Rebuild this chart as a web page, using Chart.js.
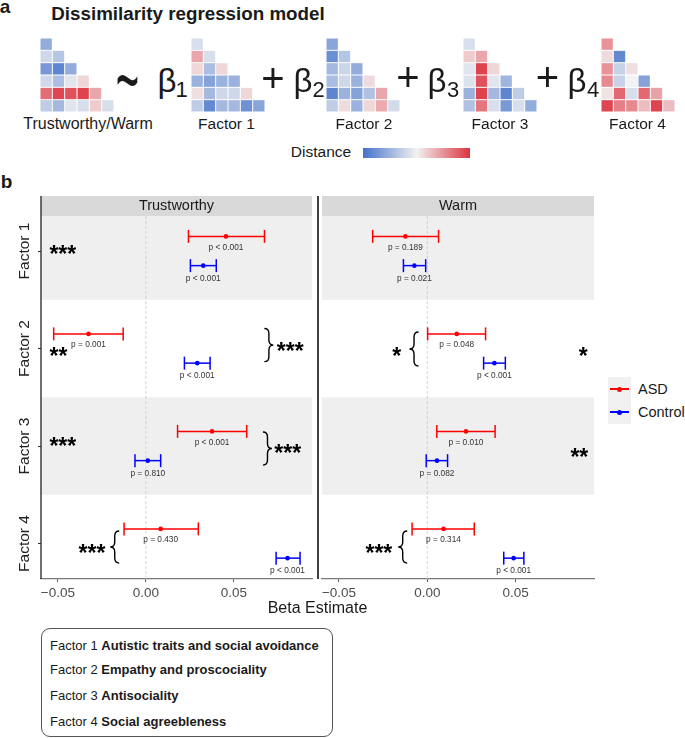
<!DOCTYPE html>
<html>
<head>
<meta charset="utf-8">
<script src="https://cdn.jsdelivr.net/npm/chart.js@4.4.1/dist/chart.umd.min.js"></script>
<style>
  body { margin: 0; background: #fff; font-family: "Liberation Sans", Arial, sans-serif; color: #1a1a1a; }
  #page { position: relative; width: 685px; height: 738px; overflow: hidden; }
  canvas { position: absolute; display: block; }
  .t { position: absolute; line-height: 1; white-space: nowrap; transform: translate(-50%, -50%); }
  .l { position: absolute; line-height: 1; white-space: nowrap; transform: translateY(-50%); }
  .op { font-size: 40px; }
  .beta { font-size: 33px; }
  .sub { font-size: 22px; }
  .tri { font-size: 15.5px; }
  #cbar { position: absolute; left: 363px; top: 148px; width: 107px; height: 10px;
          background: linear-gradient(to right, #4472ca, #f2f2f2 50%, #dc3440); }
  #legend { position: absolute; left: 608px; top: 377px; width: 23px; height: 47px; background: #f0f0f0; }
  .key { position: absolute; left: 2px; width: 19px; height: 1.6px; }
  .dot { position: absolute; left: 7.2px; top: -1.7px; width: 5px; height: 5px; border-radius: 50%; }
  #fbox { position: absolute; left: 41px; top: 628px; width: 292px; height: 109px;
          border: 1.3px solid #555; border-radius: 9px; box-sizing: border-box; }
  .fl { font-size: 13px; }
</style>
</head>
<body>
<div id="page">
  <div class="t" style="left:5px;top:6px;font-size:19px;font-weight:bold">a</div>
  <div class="t" style="left:188px;top:14px;font-size:18.8px;font-weight:bold">Dissimilarity regression model</div>

  <canvas id="h0" width="74" height="74" style="left:40px;top:38px"></canvas>
  <canvas id="h1" width="74" height="74" style="left:191px;top:38px"></canvas>
  <canvas id="h2" width="74" height="74" style="left:326px;top:38px"></canvas>
  <canvas id="h3" width="74" height="74" style="left:463px;top:38px"></canvas>
  <canvas id="h4" width="74" height="74" style="left:601px;top:38px"></canvas>

  <div class="t op" style="left:127.5px;top:79px;transform:translate(-50%,-50%) scale(1,2.2)">~</div>
  <div class="t beta" style="left:167px;top:80px">β</div><div class="t sub" style="left:181.5px;top:90px">1</div>
  <div class="t op" style="left:273px;top:78px">+</div>
  <div class="t beta" style="left:303px;top:80px">β</div><div class="t sub" style="left:318.5px;top:90px">2</div>
  <div class="t op" style="left:408px;top:77px">+</div>
  <div class="t beta" style="left:437px;top:80px">β</div><div class="t sub" style="left:453px;top:90px">3</div>
  <div class="t op" style="left:547.5px;top:77px">+</div>
  <div class="t beta" style="left:577px;top:80px">β</div><div class="t sub" style="left:593px;top:90px">4</div>

  <div class="t tri" style="left:88px;top:124px;font-size:16px">Trustworthy/Warm</div>
  <div class="t tri" style="left:226.5px;top:124px">Factor 1</div>
  <div class="t tri" style="left:364px;top:124px">Factor 2</div>
  <div class="t tri" style="left:500px;top:124px">Factor 3</div>
  <div class="t tri" style="left:637.5px;top:124px">Factor 4</div>

  <div class="t tri" style="left:321px;top:152px">Distance</div>
  <div id="cbar"></div>

  <div class="t" style="left:6.5px;top:181px;font-size:19px;font-weight:bold">b</div>

  <canvas id="trust" width="320" height="429" style="left:0px;top:190px"></canvas>
  <canvas id="warm" width="290" height="429" style="left:312px;top:190px"></canvas>

  <div class="t" style="left:317.5px;top:608px;font-size:16px">Beta Estimate</div>

  <div id="legend">
    <div class="key" style="top:11.2px;background:red"><div class="dot" style="background:red"></div></div>
    <div class="key" style="top:34.2px;background:blue"><div class="dot" style="background:blue"></div></div>
  </div>
  <div class="l" style="left:638px;top:389px;font-size:14.5px">ASD</div>
  <div class="l" style="left:638px;top:412px;font-size:14.5px">Control</div>

  <div id="fbox"></div>
  <div class="l fl" style="left:50px;top:645px">Factor 1 <b>Autistic traits and social avoidance</b></div>
  <div class="l fl" style="left:50px;top:669px">Factor 2 <b>Empathy and proscociality</b></div>
  <div class="l fl" style="left:50px;top:695px">Factor 3 <b>Antisociality</b></div>
  <div class="l fl" style="left:50px;top:721px">Factor 4 <b>Social agreebleness</b></div>
</div>

<script>
const FONT = '"Liberation Sans", Arial, sans-serif';
Chart.defaults.font.family = FONT;

// panel a: lower-triangle distance matrices (-1 = blue, +1 = red)
const twMatrix = [
  [-0.55],
  [-0.2, -0.35],
  [-0.7, -0.85, -0.55],
  [-0.2, -0.4, -0.1, 0.15],
  [0.7, 0.9, 0.85, 0.92, 0.4],
  [-0.3, -0.45, -0.1, -0.15, 0.2, -0.15],
];
const f1Matrix = [
  [-0.15],
  [0.4, -0.15],
  [0.15, -0.4, 0.15],
  [-0.5, -0.62, -0.5, -0.5],
  [0.1, -0.45, -0.2, -0.2, 0.15],
  [-0.3, -0.82, -0.45, -0.45, -0.75, -0.6],
];
const f2Matrix = [
  [-0.6],
  [-0.78, -0.35],
  [-0.45, -0.22, -0.55],
  [-0.42, -0.2, -0.5, 0.12],
  [-0.85, -0.5, -0.62, -0.38, 0.4],
  [-0.3, 0.12, -0.5, 0.15, 0.38, -0.18],
];
const f3Matrix = [
  [-0.15],
  [0.2, 0.4],
  [-0.1, 0.92, 0.15],
  [-0.12, 0.85, -0.1, -0.48],
  [-0.5, 0.92, -0.45, -0.85, -0.3],
  [-0.38, 0.65, -0.15, -0.7, -0.15, -0.55],
];
const f4Matrix = [
  [0.5],
  [0.12, -0.82],
  [0.5, -0.25, 0.1],
  [0.55, -0.25, 0.0, -0.62],
  [0.08, 0.72, -0.15, 0.72, 0.42],
  [0.9, 0.6, 0.55, 0.28, 0.92, 0.28],
];

// panel b: beta estimates with 95% CI
const factors = ["Factor 1", "Factor 2", "Factor 3", "Factor 4"];
const xTicks = [-0.05, 0, 0.05];

const trustAsdEst = [0.0455, -0.0326, 0.0376, 0.0084];
const trustAsdLo = [0.0242, -0.0524, 0.018, -0.0124];
const trustAsdHi = [0.0674, -0.0129, 0.0573, 0.0298];
const trustAsdP = ["p < 0.001", "p = 0.001", "p < 0.001", "p = 0.430"];
const trustCtrlEst = [0.0326, 0.0292, 0.0011, 0.0805];
const trustCtrlLo = [0.0253, 0.0219, -0.0062, 0.074];
const trustCtrlHi = [0.04, 0.0365, 0.0084, 0.0876];
const trustCtrlP = ["p < 0.001", "p < 0.001", "p = 0.810", "p < 0.001"];

const warmAsdEst = [-0.0124, 0.0167, 0.0219, 0.0092];
const warmAsdLo = [-0.0309, 0.0002, 0.0054, -0.0086];
const warmAsdHi = [0.0064, 0.033, 0.0384, 0.0266];
const warmAsdP = ["p = 0.189", "p = 0.048", "p = 0.010", "p = 0.314"];
const warmCtrlEst = [-0.0073, 0.038, 0.0055, 0.0489];
const warmCtrlLo = [-0.0135, 0.0319, -0.0006, 0.0433];
const warmCtrlHi = [-0.0009, 0.0442, 0.0115, 0.0547];
const warmCtrlP = ["p = 0.021", "p < 0.001", "p = 0.082", "p < 0.001"];

// significance marks (text + where they sit, in data units)
const trustStars = [
  { t: "***", x: -0.0472, y: 0.98 },
  { t: "**", x: -0.0497, y: 2.03 },
  { t: "***", x: 0.082, y: 1.975 },
  { t: "***", x: -0.0472, y: 2.95 },
  { t: "***", x: 0.0806, y: 3.03 },
  { t: "***", x: -0.0306, y: 4.056 },
];
const trustBraces = [
  { x: 0.0699, y: 1.965, h: 0.17, dir: 1 },
  { x: 0.0691, y: 3.026, h: 0.17, dir: 1 },
  { x: -0.0177, y: 4.036, h: 0.165, dir: -1 },
];
const warmStars = [
  { t: "*", x: -0.0173, y: 2.03 },
  { t: "*", x: 0.0883, y: 2.03 },
  { t: "**", x: 0.0861, y: 3.07 },
  { t: "***", x: -0.0274, y: 4.056 },
];
const warmBraces = [
  { x: -0.0075, y: 2.005, h: 0.175, dir: -1 },
  { x: -0.0139, y: 4.036, h: 0.165, dir: -1 },
];

const X_MIN = -0.0596, X_MAX = 0.0944;
const Y_MIN = 0.641, Y_MAX = 4.364;
const OFFSET = 0.15;
const shadedRows = [1, 3];

const blueEnd = [68, 114, 202], midCol = [242, 242, 242], redEnd = [220, 52, 64];
function distColor(v) {
  const t = Math.min(1, Math.abs(v));
  const e = v < 0 ? blueEnd : redEnd;
  const c = midCol.map((m, i) => Math.round(m + (e[i] - m) * t));
  return `rgb(${c.join(",")})`;
}

function heatChart(id, rows) {
  const pts = [];
  rows.forEach((row, r) => row.forEach((v, c) => pts.push({ x: c, y: r, v })));
  new Chart(document.getElementById(id), {
    type: "scatter",
    data: {
      datasets: [{
        data: pts,
        pointStyle: "rect",
        pointBackgroundColor: (ctx) => distColor(ctx.raw.v),
        pointBorderWidth: 0,
        pointRadius: (ctx) => {
          const s = ctx.chart.scales.x;
          const cell = Math.abs(s.getPixelForValue(1) - s.getPixelForValue(0));
          return (cell - 1) / (2 * Math.SQRT1_2);
        },
        clip: false,
      }],
    },
    options: {
      responsive: false,
      animation: false,
      events: [],
      layout: { padding: 0 },
      plugins: { legend: { display: false }, tooltip: { enabled: false } },
      scales: {
        x: { type: "linear", min: -0.5, max: 5.5, display: false },
        y: { type: "linear", min: -0.5, max: 5.5, reverse: true, display: false },
      },
    },
  });
}

heatChart("h0", twMatrix);
heatChart("h1", f1Matrix);
heatChart("h2", f2Matrix);
heatChart("h3", f3Matrix);
heatChart("h4", f4Matrix);

function drawBrace(ctx, cx, cy, h, w, dir) {
  const tip = cx + (dir * w) / 2, end = cx - (dir * w) / 2;
  const q = Math.min(5, h / 3);
  ctx.beginPath();
  ctx.moveTo(end, cy - h);
  ctx.quadraticCurveTo(cx, cy - h, cx, cy - h + q);
  ctx.lineTo(cx, cy - q);
  ctx.quadraticCurveTo(cx, cy, tip, cy);
  ctx.quadraticCurveTo(cx, cy, cx, cy + q);
  ctx.lineTo(cx, cy + h - q);
  ctx.quadraticCurveTo(cx, cy + h, end, cy + h);
  ctx.stroke();
}

function facetPlugin(cfg) {
  return {
    id: "facet",
    beforeDraw(chart) {
      const { ctx, chartArea: a, scales: { y } } = chart;
      ctx.save();
      ctx.fillStyle = "#efefef";
      shadedRows.forEach((f) => {
        const t = Math.max(a.top, y.getPixelForValue(f - 0.5));
        const b = Math.min(a.bottom, y.getPixelForValue(f + 0.5));
        ctx.fillRect(a.left, t, a.right - a.left, b - t);
      });
      ctx.restore();
    },
    afterDatasetsDraw(chart) {
      const { ctx, scales: { x, y } } = chart;
      ctx.save();
      ctx.fillStyle = "#333";
      ctx.font = `8.3px ${FONT}`;
      ctx.textAlign = "center";
      ctx.textBaseline = "middle";
      cfg.groups.forEach((g) =>
        g.est.forEach((v, i) =>
          ctx.fillText(g.p[i], x.getPixelForValue(v), y.getPixelForValue(i + 1 + g.off) + g.gap)
        )
      );
      ctx.fillStyle = "#000";
      ctx.font = `bold 23px ${FONT}`;
      ctx.textBaseline = "alphabetic";
      cfg.stars.forEach((s) => {
        const m = ctx.measureText(s.t);
        ctx.fillText(s.t, x.getPixelForValue(s.x),
          y.getPixelForValue(s.y) + (m.actualBoundingBoxAscent - m.actualBoundingBoxDescent) / 2);
      });
      ctx.strokeStyle = "#000";
      ctx.lineWidth = 1.4;
      cfg.braces.forEach((b) => {
        const cy = y.getPixelForValue(b.y);
        const h = Math.abs(y.getPixelForValue(b.y + b.h) - cy);
        drawBrace(ctx, x.getPixelForValue(b.x), cy, h, 9, b.dir);
      });
      ctx.restore();
    },
    afterDraw(chart) {
      const { ctx, chartArea: a, scales: { y } } = chart;
      ctx.save();
      ctx.fillStyle = "#d9d9d9";
      ctx.fillRect(a.left, a.top - 20, a.right - a.left, 20);
      ctx.fillStyle = "#1a1a1a";
      ctx.font = `14.5px ${FONT}`;
      ctx.textAlign = "center";
      ctx.textBaseline = "middle";
      ctx.fillText(cfg.title, (a.left + a.right) / 2, a.top - 10);
      ctx.strokeStyle = cfg.lineColor;
      ctx.lineWidth = cfg.lineWidth;
      ctx.beginPath();
      ctx.moveTo(a.left + cfg.lineOffset, a.top - 20);
      ctx.lineTo(a.left + cfg.lineOffset, a.bottom);
      ctx.stroke();
      if (cfg.showY) {
        ctx.font = `15.5px ${FONT}`;
        ctx.fillStyle = "#222";
        factors.forEach((f, i) => {
          ctx.save();
          ctx.translate(a.left - 16.5, y.getPixelForValue(i + 1));
          ctx.rotate(-Math.PI / 2);
          ctx.fillText(f, 0, 0);
          ctx.restore();
        });
      }
      ctx.restore();
    },
  };
}

function errorBars(est, lo, hi, off, color) {
  return est.map((_, i) => ({
    type: "line",
    showLine: true,
    data: [{ x: lo[i], y: i + 1 + off }, { x: hi[i], y: i + 1 + off }],
    borderColor: color,
    borderWidth: 1.5,
    pointStyle: "line",
    pointRotation: 90,
    pointRadius: 6.5,
    pointBorderColor: color,
    pointBorderWidth: 1.5,
    clip: false,
    order: 2,
  }));
}

function estPoints(est, off, color) {
  return {
    data: est.map((v, i) => ({ x: v, y: i + 1 + off })),
    pointRadius: 2.3,
    pointBackgroundColor: color,
    pointBorderColor: color,
    pointBorderWidth: 0,
    clip: false,
    order: 1,
  };
}

const fmtTick = (v) =>
  Math.abs(v) < 1e-9 ? "0.00" : (v < 0 ? "\u2212" : "") + Math.abs(v).toFixed(2);

function facetChart(id, cfg) {
  const datasets = [
    ...errorBars(cfg.asd.est, cfg.asd.lo, cfg.asd.hi, -OFFSET, "red"),
    ...errorBars(cfg.ctrl.est, cfg.ctrl.lo, cfg.ctrl.hi, OFFSET, "blue"),
    estPoints(cfg.asd.est, -OFFSET, "red"),
    estPoints(cfg.ctrl.est, OFFSET, "blue"),
    {
      type: "line",
      showLine: true,
      data: [{ x: 0, y: Y_MIN }, { x: 0, y: Y_MAX }],
      borderColor: "#c9c9c9",
      borderWidth: 0.8,
      borderDash: [3, 2],
      pointRadius: 0,
      order: 10,
    },
  ];
  new Chart(document.getElementById(id), {
    type: "scatter",
    data: { datasets },
    options: {
      responsive: false,
      animation: false,
      events: [],
      layout: { padding: cfg.padding },
      plugins: { legend: { display: false }, tooltip: { enabled: false } },
      scales: {
        x: {
          type: "linear",
          min: X_MIN,
          max: X_MAX,
          afterBuildTicks: (s) => { s.ticks = xTicks.map((v) => ({ value: v })); },
          ticks: { callback: fmtTick, color: "#4d4d4d", font: { size: 13.5 }, padding: 3.5, maxRotation: 0, autoSkip: false },
          grid: { drawOnChartArea: false, drawTicks: true, tickLength: 3, color: "#555", tickColor: "#555" },
          border: { display: true, color: "#7a7a7a", width: 1.3 },
          afterFit: (s) => { s.height = 40; },
        },
        y: {
          type: "linear",
          min: Y_MIN,
          max: Y_MAX,
          reverse: true,
          display: cfg.showY,
          afterBuildTicks: (s) => { s.ticks = factors.map((_, i) => ({ value: i + 1 })); },
          ticks: { display: false },
          grid: { drawOnChartArea: false, drawTicks: true, tickLength: 3, color: "#333", tickColor: "#333" },
          border: { display: false },
          afterFit: (s) => { s.width = cfg.showY ? 41 : 0; },
        },
      },
    },
    plugins: [facetPlugin(cfg)],
  });
}

facetChart("trust", {
  title: "Trustworthy",
  showY: true,
  padding: { top: 26, right: 5, left: 0, bottom: 0 },
  lineOffset: 0,
  lineColor: "#222",
  lineWidth: 1.3,
  asd: { est: trustAsdEst, lo: trustAsdLo, hi: trustAsdHi },
  ctrl: { est: trustCtrlEst, lo: trustCtrlLo, hi: trustCtrlHi },
  groups: [
    { est: trustAsdEst, p: trustAsdP, off: -OFFSET, gap: 11 },
    { est: trustCtrlEst, p: trustCtrlP, off: OFFSET, gap: 12.7 },
  ],
  stars: trustStars,
  braces: trustBraces,
});

facetChart("warm", {
  title: "Warm",
  showY: false,
  padding: { top: 26, right: 6, left: 10, bottom: 0 },
  lineOffset: -4,
  lineColor: "#000",
  lineWidth: 1.5,
  asd: { est: warmAsdEst, lo: warmAsdLo, hi: warmAsdHi },
  ctrl: { est: warmCtrlEst, lo: warmCtrlLo, hi: warmCtrlHi },
  groups: [
    { est: warmAsdEst, p: warmAsdP, off: -OFFSET, gap: 11 },
    { est: warmCtrlEst, p: warmCtrlP, off: OFFSET, gap: 12.7 },
  ],
  stars: warmStars,
  braces: warmBraces,
});
</script>
</body>
</html>
